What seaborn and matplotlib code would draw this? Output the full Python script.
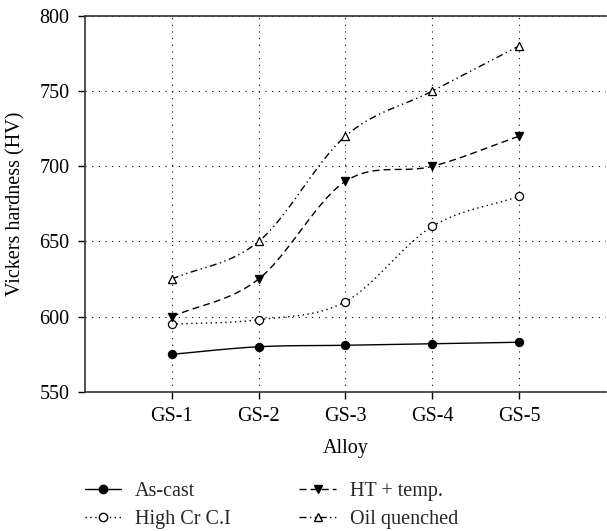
import numpy as np
import matplotlib
matplotlib.use("Agg")
import matplotlib.pyplot as plt
import seaborn as sns
import pandas as pd

alloys = ["GS-1", "GS-2", "GS-3", "GS-4", "GS-5"]
as_cast = [575, 580, 581, 582, 583]
high_cr = [595, 598, 610, 660, 680]
ht_temp = [600, 625, 690, 700, 720]
oil_quenched = [625, 650, 720, 750, 780]

series = {
    "As-cast": as_cast,
    "High Cr C.I": high_cr,
    "HT + temp.": ht_temp,
    "Oil quenched": oil_quenched,
}

sns.set_theme(style="white")
plt.rcParams['font.family'] = ['Liberation Serif', 'DejaVu Serif']

fig = plt.figure(figsize=(6.07, 5.31), dpi=100)
ax = fig.add_axes([0.140, 0.262, 0.858, 0.708])

x = np.arange(1, len(alloys) + 1)

def catmull(xs, ys, n=30):
    xs = np.asarray(xs, float); ys = np.asarray(ys, float)
    px = np.concatenate([[2*xs[0]-xs[1]], xs, [2*xs[-1]-xs[-2]]])
    py = np.concatenate([[2*ys[0]-ys[1]], ys, [2*ys[-1]-ys[-2]]])
    outx, outy = [], []
    for i in range(1, len(px) - 2):
        t = np.linspace(0, 1, n)
        p0, p1, p2, p3 = (np.array([px[j], py[j]]) for j in range(i-1, i+3))
        m1 = (p2 - p0) / 2
        m2 = (p3 - p1) / 2
        h00 = 2*t**3 - 3*t**2 + 1
        h10 = t**3 - 2*t**2 + t
        h01 = -2*t**3 + 3*t**2
        h11 = t**3 - t**2
        pts = (np.outer(h00, p1) + np.outer(h10, m1) + np.outer(h01, p2) + np.outer(h11, m2))
        outx.extend(pts[:, 0]); outy.extend(pts[:, 1])
    return np.array(outx), np.array(outy)

styles = {
    "As-cast": dict(ls="-", marker="o", mfc="black"),
    "High Cr C.I": dict(ls=(0, (1, 2.5)), marker="o", mfc="white"),
    "HT + temp.": dict(ls=(0, (5, 3)), marker="v", mfc="black"),
    "Oil quenched": dict(ls=(0, (5, 2.5, 1, 2.5, 1, 2.5)), marker="^", mfc="white"),
}

for name, vals in series.items():
    st = styles[name]
    sx, sy = catmull(x, vals)
    ax.plot(sx, sy, color="black", lw=1.0, ls=st["ls"], zorder=2)
    df = pd.DataFrame({"x": x, "y": vals})
    sns.scatterplot(data=df, x="x", y="y", ax=ax, marker=st["marker"], s=34,
                    color=st["mfc"], edgecolor="black", linewidth=0.9, zorder=3)

from matplotlib.lines import Line2D
handles = [Line2D([0], [0], color="black", lw=1.0, ls=styles[n]["ls"], marker=styles[n]["marker"],
                  markerfacecolor=styles[n]["mfc"], markeredgecolor="black", markersize=6)
           for n in series]
fig.legend(handles, list(series.keys()), loc="lower left", bbox_to_anchor=(0.11, -0.03), ncol=2,
           frameon=False, fontsize=14.5, handlelength=1.8, columnspacing=3.4, labelspacing=0.45,
           handletextpad=0.7)

ax.set_xlim(0, 6)
ax.set_ylim(550, 800)
ax.set_xticks(x)
ax.set_xticklabels(alloys)
ax.set_yticks([550, 600, 650, 700, 750, 800])
ax.grid(True, color="black", ls=(0, (1, 5)), lw=0.8)
ax.tick_params(axis="both", direction="out", length=5, width=1, colors="black", labelsize=14.5,
               bottom=True, left=True, pad=6)
for s in ["left", "bottom", "top"]:
    ax.spines[s].set_color("#333333")
    ax.spines[s].set_linewidth(1.2)
ax.spines["right"].set_visible(False)
ax.set_xlabel("Alloy", fontsize=14.5, color="black", labelpad=9)
ax.set_ylabel("Vickers hardness (HV)", fontsize=14.5, color="black", labelpad=10)
ax.set_facecolor("white")

fig.savefig("out.png", dpi=100, facecolor="white")
